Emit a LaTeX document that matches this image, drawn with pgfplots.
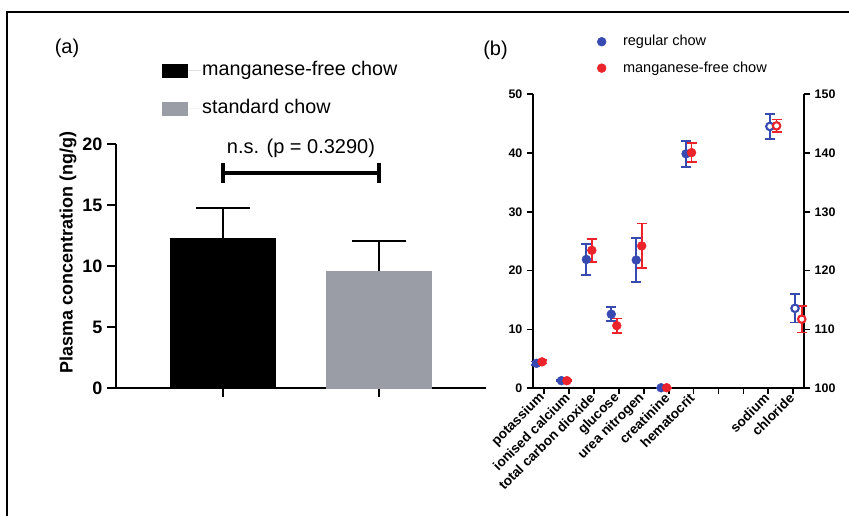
\documentclass[border=0pt]{standalone}
\usepackage{fontspec}
\setmainfont{Liberation Sans}
\usepackage{pgfplots}
\pgfplotsset{compat=1.18}

\definecolor{mnblue}{RGB}{55,74,178}
\definecolor{mnred}{RGB}{234,36,42}
\definecolor{stdgray}{RGB}{155,157,166}

\pgfplotsset{
  barleg/.style={legend image code/.code={\draw[##1] (0pt,-4.875pt) rectangle (18.75pt,4.875pt); \path[draw=none] (0pt,0pt) -- (28.75pt,0pt);}},
  dotleg/.style={legend image code/.code={\path[draw=none] (-3.4pt,0pt) -- (15pt,0pt); \draw[##1] plot coordinates {(0pt,0pt)};}},
}

\begin{document}
\begin{tikzpicture}
\useasboundingbox (0,0) rectangle (636.75pt,386.25pt);
\draw[line width=1.5pt] (5.25pt,-5pt) -- (5.25pt,377.6pt) -- (645pt,377.6pt);

\node[font=\fontsize{15}{18}\selectfont] at (50.25pt,350.25pt) {(a)};
\node[font=\fontsize{15}{18}\selectfont] at (371.6pt,348.75pt) {(b)};

% ---- panel (a): bars
\begin{axis}[
  at={(87pt,95.25pt)}, anchor=south west,
  scale only axis, width=277.5pt, height=183pt,
  xmin=-0.686, xmax=1.686, ymin=0, ymax=20,
  axis lines=left, axis line style={-, line width=2.1pt},
  xtick={0,1}, xticklabels={}, ytick={0,5,10,15,20},
  tick align=outside, major tick length=6.75pt,
  every tick/.style={line width=1.9pt, black},
  tick label style={font=\fontsize{13.5}{16}\selectfont\bfseries},
  /pgf/number format/assume math mode=true,
  ylabel={Plasma concentration (ng/g)},
  every axis y label/.style={at={(rel axis cs:-0.13,0.557)}, rotate=90, anchor=center,
    font=\fontsize{13.5}{16}\selectfont\bfseries},
  clip=false,
  legend cell align=left,
  legend style={at={(rel axis cs:0.1135,1.224)}, anchor=west, draw=none, fill=none,
    font=\fontsize{14.8}{17}\selectfont, row sep=12.5pt,
    nodes={inner sep=1pt, text height=11pt, text depth=3pt}},
]
\addplot[ybar, bar width=78.75pt, bar shift=0pt, fill=black, draw=black, barleg,
  error bars/.cd, y dir=plus, y explicit,
  error bar style={line width=1.9pt, black},
  error mark options={rotate=90, line width=1.9pt, mark size=20pt, black}]
  coordinates {(0,12.25) +- (0,2.5)};
\addlegendentry{manganese-free chow}
\addplot[ybar, bar width=78.75pt, bar shift=0pt, fill=stdgray, draw=stdgray, barleg,
  error bars/.cd, y dir=plus, y explicit,
  error bar style={line width=1.9pt, black},
  error mark options={rotate=90, line width=1.9pt, mark size=20pt, black}]
  coordinates {(1,9.6) +- (0,2.45)};
\addlegendentry{standard chow}
\draw[line width=2.4pt] (axis cs:0,17.62) -- (axis cs:1,17.62);
\draw[line width=2.4pt] (axis cs:0,18.47) -- (axis cs:0,16.78);
\draw[line width=2.4pt] (axis cs:1,18.47) -- (axis cs:1,16.78);
\node[font=\fontsize{15}{18}\selectfont] at (axis cs:0.5,19.67) {n.s. (p = 0.3290)};
\end{axis}

% ---- panel (b): left axis
\begin{axis}[
  at={(399.75pt,95pt)}, anchor=south west,
  scale only axis, width=203.25pt, height=220.7pt,
  xmin=0.56, xmax=11.43, ymin=0, ymax=50,
  axis x line=bottom, axis y line=left, axis line style={-, line width=1.3pt},
  xtick={1,...,11},
  xticklabels={potassium, ionised calcium, total carbon dioxide, glucose, urea nitrogen, creatinine, hematocrit, {}, {}, sodium, chloride},
  ytick={0,10,...,50},
  tick align=outside, major tick length=4.5pt,
  every tick/.style={line width=1.3pt, black},
  yticklabel style={font=\fontsize{9.3}{11}\selectfont\bfseries},
  xticklabel style={font=\fontsize{10.2}{12}\selectfont\bfseries, rotate=45, anchor=east, inner sep=1.5pt},
  /pgf/number format/assume math mode=true,
  clip=false,
  legend cell align=left,
  legend style={at={(rel axis cs:0.221,1.133)}, anchor=west, draw=none, fill=none,
    font=\fontsize{10.9}{13}\selectfont, row sep=7.8pt,
    nodes={inner sep=1pt, text height=8pt, text depth=2pt}},
]
\addplot[only marks, mark=*, mark size=3.3pt, color=mnblue, mark options={fill=mnblue, draw=mnblue}, dotleg,
  error bars/.cd, y dir=both, y explicit,
  error bar style={line width=1.3pt, mnblue},
  error mark options={rotate=90, line width=1.3pt, mark size=3.75pt, mnblue}]
  coordinates {
  (0.7,4.25) +- (0,0.3)
  (1.7,1.3) +- (0,0.15)
  (2.7,21.9) +- (0,2.6)
  (3.7,12.6) +- (0,1.2)
  (4.7,21.8) +- (0,3.7)
  (5.7,0.1) +- (0,0.05)
  (6.7,39.85) +- (0,2.2)
  };
\addlegendentry{regular chow}
\addplot[only marks, mark=*, mark size=3.3pt, color=mnred, mark options={fill=mnred, draw=mnred}, dotleg,
  error bars/.cd, y dir=both, y explicit,
  error bar style={line width=1.3pt, mnred},
  error mark options={rotate=90, line width=1.3pt, mark size=3.75pt, mnred}]
  coordinates {
  (0.92,4.5) +- (0,0.3)
  (1.92,1.3) +- (0,0.15)
  (2.92,23.45) +- (0,1.95)
  (3.92,10.65) +- (0,1.2)
  (4.92,24.2) +- (0,3.8)
  (5.92,0.1) +- (0,0.05)
  (6.92,40.05) +- (0,1.65)
  };
\addlegendentry{manganese-free chow}
\end{axis}

% ---- panel (b): right axis (sodium, chloride)
\begin{axis}[
  at={(399.75pt,95pt)}, anchor=south west,
  scale only axis, width=203.25pt, height=220.7pt,
  xmin=0.56, xmax=11.43, ymin=100, ymax=150,
  axis x line=none, axis y line*=right, axis line style={-, line width=1.3pt},
  ytick={100,110,...,150},
  tick align=outside, major tick length=4.5pt,
  every tick/.style={line width=1.3pt, black},
  yticklabel style={font=\fontsize{9.3}{11}\selectfont\bfseries},
  /pgf/number format/assume math mode=true,
  clip=false,
]
\addplot[only marks, mark=*, mark size=2.8pt, color=mnblue, mark options={fill=white, draw=mnblue, line width=1.6pt},
  error bars/.cd, y dir=both, y explicit,
  error bar style={line width=1.3pt, mnblue},
  error mark options={rotate=90, line width=1.3pt, mark size=3.75pt, mnblue}]
  coordinates {
  (10.06,144.5) +- (0,2.1)
  (11.07,113.6) +- (0,2.4)
  };
\addplot[only marks, mark=*, mark size=2.8pt, color=mnred, mark options={fill=white, draw=mnred, line width=1.6pt},
  error bars/.cd, y dir=both, y explicit,
  error bar style={line width=1.3pt, mnred},
  error mark options={rotate=90, line width=1.3pt, mark size=3.75pt, mnred}]
  coordinates {
  (10.33,144.6) +- (0,1.1)
  (11.34,111.75) +- (0,2.25)
  };
\end{axis}
\end{tikzpicture}
\end{document}
